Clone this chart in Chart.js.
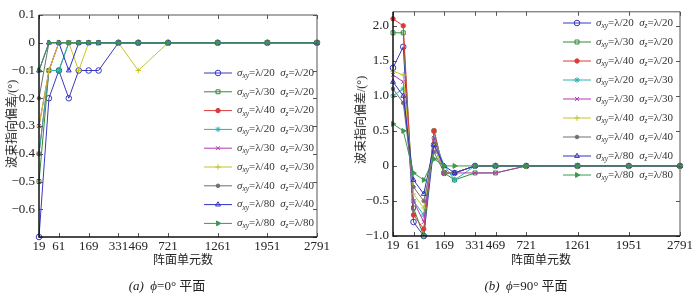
<!DOCTYPE html>
<html>
<head>
<meta charset="utf-8">
<script src="https://cdn.jsdelivr.net/npm/chart.js@4.4.0/dist/chart.umd.min.js"></script>
<style>
body{margin:0;background:#fff;}
#wrap{position:relative;width:700px;height:300px;font-family:"Liberation Serif","Noto Sans CJK SC",serif;color:#222;}
.box{position:absolute;top:0;width:350px;height:300px;}
.lbl{position:absolute;white-space:nowrap;font-size:12px;transform:translate(-50%,-50%);}
.cap{position:absolute;white-space:nowrap;font-size:13px;transform:translate(-50%,-50%);}
.ylbl{position:absolute;white-space:nowrap;font-size:12px;transform:translate(-50%,-50%) rotate(-90deg);}
</style>
</head>
<body>
<div id="wrap">
  <div class="box" style="left:0"><canvas id="chartA" width="350" height="300"></canvas></div>
  <div class="box" style="left:350px"><canvas id="chartB" width="350" height="300"></canvas></div>
  <div class="ylbl" style="left:11px;top:124px">波束指向偏差/(°)</div>
  <div class="ylbl" style="left:360px;top:120px">波束指向偏差/(°)</div>
  <div class="lbl" style="left:183px;top:259px">阵面单元数</div>
  <div class="lbl" style="left:541px;top:259px">阵面单元数</div>
  <div class="cap" style="left:167px;top:284px"><i>(a)</i>&nbsp; <i>ϕ</i>=0° 平面</div>
  <div class="cap" style="left:526px;top:284px"><i>(b)</i>&nbsp; <i>ϕ</i>=90° 平面</div>
</div>
<script>
// x positions: ring count n, array size = 3n(n+1)+1
const ringCount = [2, 3, 4, 5, 6, 7, 8, 10, 12, 15, 20, 25, 30];
const elementCount = [19, 37, 61, 91, 127, 169, 217, 331, 469, 721, 1261, 1951, 2791];
const tickElements = [19, 61, 169, 331, 469, 721, 1261, 1951, 2791];

const sigmaXY = ["λ/20", "λ/30", "λ/40", "λ/20", "λ/30", "λ/40", "λ/40", "λ/80", "λ/80"];
const sigmaZ = ["λ/20", "λ/20", "λ/20", "λ/30", "λ/30", "λ/30", "λ/40", "λ/40", "λ/80"];

const yTicksA = [-0.7, -0.6, -0.5, -0.4, -0.3, -0.2, -0.1, 0, 0.1];
const yTicksB = [-1.0, -0.5, 0, 0.5, 1.0, 1.5, 2.0];

// (a) phi = 0
const phi0_xy20_z20 = [-0.7, -0.2, -0.1, -0.2, -0.1, -0.1, -0.1, 0, 0, 0, 0, 0, 0];
const phi0_xy30_z20 = [-0.5, -0.1, -0.1, 0, 0, 0, 0, 0, 0, 0, 0, 0, 0];
const phi0_xy40_z20 = [-0.4, -0.1, 0, 0, 0, 0, 0, 0, 0, 0, 0, 0, 0];
const phi0_xy20_z30 = [-0.4, -0.1, -0.1, 0, 0, 0, 0, 0, 0, 0, 0, 0, 0];
const phi0_xy30_z30 = [-0.3, -0.1, 0, 0, 0, 0, 0, 0, 0, 0, 0, 0, 0];
const phi0_xy40_z30 = [-0.3, -0.1, 0, 0, -0.1, 0, 0, 0, -0.1, 0, 0, 0, 0];
const phi0_xy40_z40 = [-0.2, 0, 0, 0, 0, 0, 0, 0, 0, 0, 0, 0, 0];
const phi0_xy80_z40 = [-0.1, 0, 0, -0.1, 0, 0, 0, 0, 0, 0, 0, 0, 0];
const phi0_xy80_z80 = [-0.1, 0, 0, 0, 0, 0, 0, 0, 0, 0, 0, 0, 0];

// (b) phi = 90
const phi90_xy20_z20 = [1.4, 1.7, -0.8, -1.0, 0.3, -0.1, -0.1, 0, 0, 0, 0, 0, 0];
const phi90_xy30_z20 = [1.9, 1.9, -0.6, -1.0, 0.5, -0.1, -0.2, -0.1, -0.1, 0, 0, 0, 0];
const phi90_xy40_z20 = [2.1, 2.0, -0.7, -0.9, 0.5, -0.1, -0.1, 0, 0, 0, 0, 0, 0];
const phi90_xy20_z30 = [1.0, 1.1, -0.5, -0.7, 0.4, 0, -0.2, 0, 0, 0, 0, 0, 0];
const phi90_xy30_z30 = [1.3, 1.2, -0.5, -0.8, 0.4, -0.1, -0.1, -0.1, -0.1, 0, 0, 0, 0];
const phi90_xy40_z30 = [1.35, 1.3, -0.4, -0.6, 0.3, -0.1, -0.1, 0, 0, 0, 0, 0, 0];
const phi90_xy40_z40 = [1.1, 0.9, -0.3, -0.5, 0.2, -0.1, -0.1, 0, 0, 0, 0, 0, 0];
const phi90_xy80_z40 = [1.2, 1.0, -0.2, -0.4, 0.3, 0, -0.1, 0, 0, 0, 0, 0, 0];
const phi90_xy80_z80 = [0.6, 0.5, -0.1, -0.2, 0.1, 0, 0, 0, 0, 0, 0, 0, 0];

const colors = ["#3838c0", "#338a38", "#dc3a3a", "#2ab0b0", "#b03ab0", "#c4c42a", "#707070", "#3030c0", "#3c9650"];
const styles = [
  { pointStyle: "circle", radius: 2.8, fill: false },
  { pointStyle: "rect", radius: 2.8, fill: false },
  { pointStyle: "circle", radius: 2.2, fill: true },
  { pointStyle: "star", radius: 2.8, fill: false },
  { pointStyle: "crossRot", radius: 2.8, fill: false },
  { pointStyle: "cross", radius: 2.8, fill: false },
  { pointStyle: "circle", radius: 1.8, fill: true },
  { pointStyle: "triangle", radius: 2.8, fill: false },
  { pointStyle: "triangle", radius: 2.8, fill: true, rotation: 90 },
];

function fmt(v) {
  if (Math.abs(v) < 1e-9) return "0";
  return v.toFixed(1).replace("-", "\u2212");
}

function drawLabel(ctx, xy, z, x, y) {
  const parts = [
    ["σ", true, false], ["xy", true, true], ["=" + xy + "  ", false, false],
    ["σ", true, false], ["z", true, true], ["=" + z, false, false],
  ];
  let cx = x;
  for (const [t, it, sub] of parts) {
    const size = sub ? 7.5 : 11;
    ctx.font = (it ? "italic " : "") + size + 'px "Liberation Serif", serif';
    ctx.fillText(t, cx, y + (sub ? 3 : 0));
    cx += ctx.measureText(t).width;
  }
}

const richLegend = {
  id: "richLegend",
  afterDraw(chart, args, opts) {
    const ctx = chart.ctx;
    ctx.save();
    ctx.textBaseline = "middle";
    chart.data.datasets.forEach((ds, i) => {
      const y = opts.y + i * opts.dy;
      ctx.strokeStyle = ds.borderColor;
      ctx.lineWidth = 1;
      ctx.beginPath();
      ctx.moveTo(opts.x, y);
      ctx.lineTo(opts.x + opts.w, y);
      ctx.stroke();
      ctx.fillStyle = ds.pointBackgroundColor;
      Chart.helpers.drawPoint(ctx, {
        pointStyle: ds.pointStyle, radius: ds.pointRadius,
        rotation: ds.pointRotation || 0, borderWidth: 1,
      }, opts.x + opts.w / 2, y);
      ctx.fillStyle = "#333";
      drawLabel(ctx, sigmaXY[i], sigmaZ[i], opts.x + opts.w + 5, y);
    });
    ctx.restore();
  },
};

const frame = {
  id: "frame",
  afterDraw(chart) {
    const { ctx, chartArea: a, scales: { x, y } } = chart;
    ctx.save();
    ctx.strokeStyle = "#555";
    ctx.lineWidth = 1;
    ctx.beginPath();
    ctx.moveTo(a.left, a.top); ctx.lineTo(a.right, a.top); ctx.lineTo(a.right, a.bottom);
    x.ticks.forEach((t) => {
      const px = Math.round(x.getPixelForValue(t.value)) + 0.5;
      ctx.moveTo(px, a.top); ctx.lineTo(px, a.top + 4);
      ctx.moveTo(px, a.bottom); ctx.lineTo(px, a.bottom - 4);
    });
    y.ticks.forEach((t) => {
      const py = Math.round(y.getPixelForValue(t.value)) + 0.5;
      ctx.moveTo(a.right, py); ctx.lineTo(a.right - 4, py);
      ctx.moveTo(a.left, py); ctx.lineTo(a.left + 4, py);
    });
    ctx.stroke();
    ctx.strokeStyle = "#111";
    ctx.lineWidth = 1.5;
    ctx.beginPath();
    ctx.moveTo(a.left, a.top); ctx.lineTo(a.left, a.bottom); ctx.lineTo(a.right, a.bottom);
    ctx.stroke();
    ctx.restore();
  },
};

function makeChart(id, series, yTicks, yMin, yMax, area, legend) {
  const tickRings = tickElements.map((e) => ringCount[elementCount.indexOf(e)]);
  const datasets = series.map((arr, i) => ({
    label: "σxy=" + sigmaXY[i] + " σz=" + sigmaZ[i],
    data: ringCount.map((n, k) => ({ x: n, y: arr[k] })),
    borderColor: colors[i],
    borderWidth: 1,
    pointStyle: styles[i].pointStyle,
    pointRadius: styles[i].radius,
    pointRotation: styles[i].rotation || 0,
    pointBorderColor: colors[i],
    pointBackgroundColor: styles[i].fill ? colors[i] : "rgba(0,0,0,0)",
    pointBorderWidth: 1,
    tension: 0,
    clip: false,
    order: series.length - i,
  }));
  return new Chart(document.getElementById(id), {
    type: "line",
    data: { datasets },
    options: {
      responsive: false,
      animation: false,
      layout: { padding: { left: 0, top: area.top, right: 350 - area.right, bottom: 0 } },
      plugins: { legend: { display: false }, tooltip: { enabled: false }, richLegend: legend },
      scales: {
        x: {
          type: "linear", min: 2, max: 30,
          grid: { display: false, drawTicks: false },
          border: { display: false },
          afterBuildTicks: (s) => { s.ticks = tickRings.map((v) => ({ value: v })); },
          afterFit: (s) => { s.height = 300 - area.bottom; },
          ticks: {
            autoSkip: false, maxRotation: 0, padding: 2, color: "#222",
            font: { family: '"Liberation Serif", serif', size: 13 },
            callback: (v) => elementCount[ringCount.indexOf(v)],
          },
        },
        y: {
          min: yMin, max: yMax,
          grid: { display: false, drawTicks: false },
          border: { display: false },
          afterBuildTicks: (s) => { s.ticks = yTicks.map((v) => ({ value: v })); },
          afterFit: (s) => { s.width = area.left; },
          ticks: {
            padding: 4, color: "#222",
            font: { family: '"Liberation Serif", serif', size: 13 },
            callback: (v) => (v === yMin && yMin === -0.7 ? "" : fmt(v)),
          },
        },
      },
    },
    plugins: [frame, richLegend],
  });
}

makeChart("chartA",
  [phi0_xy20_z20, phi0_xy30_z20, phi0_xy40_z20, phi0_xy20_z30, phi0_xy30_z30,
   phi0_xy40_z30, phi0_xy40_z40, phi0_xy80_z40, phi0_xy80_z80],
  yTicksA, -0.7, 0.1,
  { left: 39, right: 317, top: 15, bottom: 237 },
  { x: 204, y: 73, dy: 18.8, w: 28 });

makeChart("chartB",
  [phi90_xy20_z20, phi90_xy30_z20, phi90_xy40_z20, phi90_xy20_z30, phi90_xy30_z30,
   phi90_xy40_z30, phi90_xy40_z40, phi90_xy80_z40, phi90_xy80_z80],
  yTicksB, -1.0, 2.2,
  { left: 43, right: 330, top: 10, bottom: 236 },
  { x: 213, y: 23, dy: 19, w: 28 });
</script>
</body>
</html>
